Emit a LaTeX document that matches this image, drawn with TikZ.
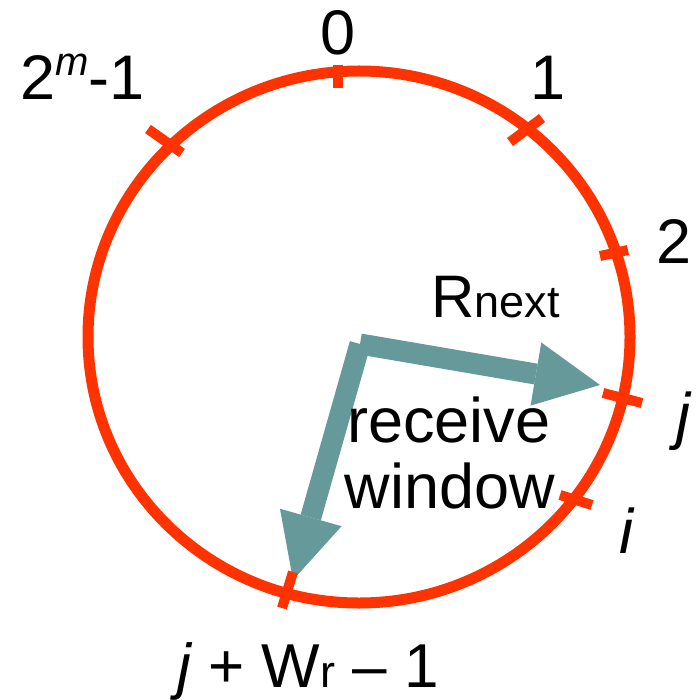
\documentclass[tikz,border=0pt]{standalone}
\usepackage{fontspec}
\setmainfont{Liberation Sans}
\usetikzlibrary{arrows.meta}
\definecolor{ringred}{HTML}{FF3300}
\definecolor{arrteal}{HTML}{669999}
\begin{document}
\begin{tikzpicture}[x=1pt,y=-1pt,
  ring/.style={draw=ringred,line width=11pt},
  ringtick/.style={draw=ringred,line width=10pt},
  bigarrow/.style={draw=arrteal,line width=21pt,
    -{Triangle[length=65pt,width=64pt,line width=0pt]}},
  lbl/.style={inner sep=0pt,font=\fontsize{63}{63}\selectfont}
]
\useasboundingbox (0,0) rectangle (698,700);
\fill[white] (0,0) rectangle (698,700);

% arrows
\coordinate (P) at (360,344);
\coordinate (Tr) at (600,385);
\coordinate (Td) at (293,580);
\draw[bigarrow] (P) -- (Tr);
\draw[bigarrow] (P) -- (Td);

% ring
\draw[ring] (359,337) ellipse [x radius=271, y radius=266];

% ticks
\draw[ringtick] (148,129) -- (182,153);
\draw[ringtick] (338,65) -- (338,88);
\draw[ringtick] (510,142) -- (542,118);
\draw[ringtick] (600,256) -- (628,250);
\draw[ringtick] (603,393) -- (642,403);
\draw[ringtick] (560,495) -- (592,505);
\draw[ringtick] (282,608) -- (293,572);

% labels
\node[lbl,anchor=base west] (lm) at (20,100)
  {2\raisebox{24pt}{\fontsize{40}{40}\selectfont\itshape m}-1};
\node[lbl,anchor=base] (l0) at (338,55) {0};
\node[lbl,anchor=base] (l1) at (548,100) {1};
\node[lbl,anchor=base] (l2) at (674,263) {2};
\node[lbl,anchor=base] (lj) at (683,437) {\itshape j};
\node[lbl,anchor=base] (li) at (626,553) {\itshape i};
\node[lbl,anchor=base west] (lr) at (431,317)
  {\fontsize{60}{60}\selectfont R\fontsize{45}{45}\selectfont next};
\node[lbl,anchor=base] (lrec) at (449,442) {receive};
\node[lbl,anchor=base] (lwin) at (450,508) {window};
\node[lbl,anchor=base west,font=\fontsize{62}{62}\selectfont] (lw) at (177,687)
  {{\itshape j} + W{\fontsize{45}{45}\selectfont r} – 1};
\end{tikzpicture}
\end{document}
